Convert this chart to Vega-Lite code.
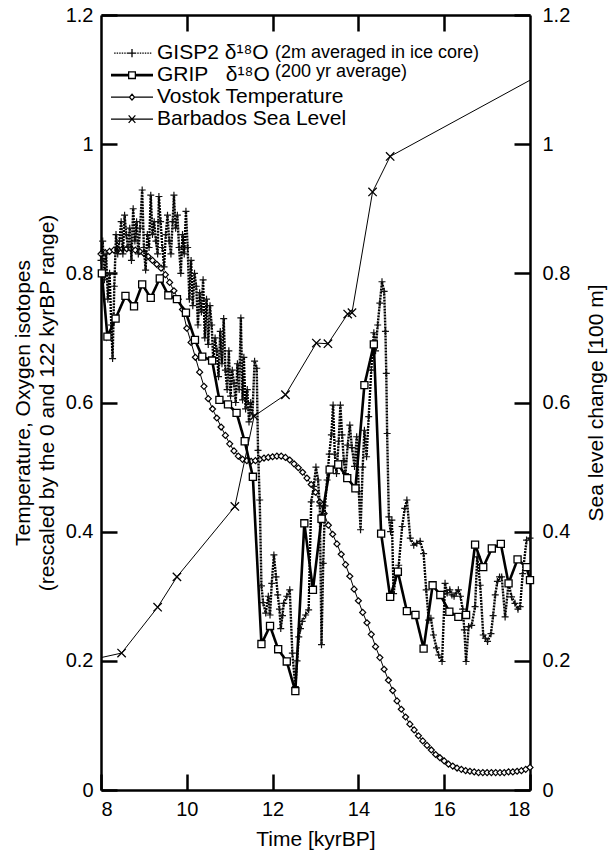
{
  "$schema": "https://vega.github.io/schema/vega-lite/v6.json",
  "width": 429,
  "height": 775,
  "autosize": {"type": "none"},
  "padding": {"left": 101, "top": 15, "right": 82, "bottom": 65},
  "background": "white",
  "config": {
    "font": "Liberation Sans",
    "view": {"stroke": null},
    "axis": {
      "domainColor": "black", "domainWidth": 2.5, "tickColor": "black", "tickWidth": 2.5,
      "labelColor": "black", "titleColor": "black", "labelFontSize": 20, "titleFontSize": 21,
      "titleFontWeight": "normal", "grid": false, "labelFont": "Liberation Sans", "titleFont": "Liberation Sans"
    }
  },
  "datasets": {
    "gisp2": [
      {"t":8.00,"v":0.82},{"t":8.04,"v":0.85},{"t":8.08,"v":0.79},{"t":8.12,"v":0.83},{"t":8.16,"v":0.76},{"t":8.20,"v":0.80},{"t":8.24,"v":0.72},{"t":8.27,"v":0.668},{"t":8.31,"v":0.78},{"t":8.35,"v":0.86},
      {"t":8.39,"v":0.83},{"t":8.43,"v":0.85},{"t":8.47,"v":0.88},{"t":8.51,"v":0.83},{"t":8.55,"v":0.89},{"t":8.59,"v":0.86},{"t":8.63,"v":0.84},{"t":8.67,"v":0.87},{"t":8.71,"v":0.82},{"t":8.75,"v":0.90},
      {"t":8.79,"v":0.85},{"t":8.83,"v":0.88},{"t":8.87,"v":0.83},{"t":8.91,"v":0.87},{"t":8.96,"v":0.929},{"t":9.00,"v":0.84},{"t":9.04,"v":0.805},{"t":9.08,"v":0.86},{"t":9.12,"v":0.84},{"t":9.16,"v":0.921},
      {"t":9.20,"v":0.86},{"t":9.24,"v":0.88},{"t":9.28,"v":0.85},{"t":9.32,"v":0.83},{"t":9.35,"v":0.919},{"t":9.39,"v":0.88},{"t":9.43,"v":0.84},{"t":9.47,"v":0.81},{"t":9.51,"v":0.86},{"t":9.55,"v":0.89},
      {"t":9.59,"v":0.85},{"t":9.63,"v":0.83},{"t":9.67,"v":0.88},{"t":9.70,"v":0.921},{"t":9.74,"v":0.87},{"t":9.78,"v":0.89},{"t":9.82,"v":0.84},{"t":9.86,"v":0.80},{"t":9.90,"v":0.86},{"t":9.94,"v":0.83},
      {"t":9.98,"v":0.896},{"t":10.02,"v":0.84},{"t":10.06,"v":0.76},{"t":10.10,"v":0.82},{"t":10.14,"v":0.75},{"t":10.18,"v":0.80},{"t":10.22,"v":0.78},{"t":10.26,"v":0.72},{"t":10.30,"v":0.77},{"t":10.34,"v":0.74},
      {"t":10.38,"v":0.79},{"t":10.42,"v":0.70},{"t":10.46,"v":0.76},{"t":10.50,"v":0.69},{"t":10.54,"v":0.75},{"t":10.58,"v":0.72},{"t":10.62,"v":0.66},{"t":10.66,"v":0.70},{"t":10.70,"v":0.68},{"t":10.74,"v":0.64},
      {"t":10.78,"v":0.71},{"t":10.82,"v":0.66},{"t":10.86,"v":0.73},{"t":10.90,"v":0.65},{"t":10.94,"v":0.62},{"t":10.98,"v":0.68},{"t":11.02,"v":0.61},{"t":11.06,"v":0.65},{"t":11.10,"v":0.63},{"t":11.14,"v":0.60},
      {"t":11.18,"v":0.66},{"t":11.22,"v":0.62},{"t":11.26,"v":0.731},{"t":11.30,"v":0.604},{"t":11.33,"v":0.670},{"t":11.37,"v":0.59},{"t":11.41,"v":0.62},{"t":11.45,"v":0.57},{"t":11.49,"v":0.60},{"t":11.53,"v":0.581},
      {"t":11.58,"v":0.664},{"t":11.63,"v":0.653},{"t":11.66,"v":0.526},{"t":11.70,"v":0.449},{"t":11.74,"v":0.316},{"t":11.78,"v":0.290},{"t":11.84,"v":0.274},{"t":11.90,"v":0.300},{"t":11.94,"v":0.271},{"t":11.98,"v":0.32},
      {"t":12.03,"v":0.364},{"t":12.08,"v":0.33},{"t":12.12,"v":0.302},{"t":12.16,"v":0.28},{"t":12.19,"v":0.250},{"t":12.23,"v":0.27},{"t":12.26,"v":0.289},{"t":12.33,"v":0.30},{"t":12.40,"v":0.310},{"t":12.46,"v":0.212},
      {"t":12.53,"v":0.160},{"t":12.57,"v":0.20},{"t":12.61,"v":0.237},{"t":12.65,"v":0.25},{"t":12.69,"v":0.261},{"t":12.77,"v":0.271},{"t":12.84,"v":0.279},{"t":12.90,"v":0.446},{"t":12.96,"v":0.470},{"t":13.01,"v":0.50},
      {"t":13.06,"v":0.48},{"t":13.10,"v":0.44},{"t":13.14,"v":0.225},{"t":13.18,"v":0.351},{"t":13.22,"v":0.44},{"t":13.27,"v":0.48},{"t":13.32,"v":0.52},{"t":13.37,"v":0.55},{"t":13.41,"v":0.596},{"t":13.45,"v":0.52},
      {"t":13.49,"v":0.49},{"t":13.54,"v":0.54},{"t":13.58,"v":0.596},{"t":13.62,"v":0.55},{"t":13.66,"v":0.51},{"t":13.70,"v":0.49},{"t":13.75,"v":0.534},{"t":13.80,"v":0.565},{"t":13.85,"v":0.53},{"t":13.91,"v":0.501},
      {"t":13.96,"v":0.547},{"t":14.01,"v":0.462},{"t":14.05,"v":0.403},{"t":14.10,"v":0.50},{"t":14.14,"v":0.557},{"t":14.19,"v":0.516},{"t":14.24,"v":0.578},{"t":14.30,"v":0.650},{"t":14.36,"v":0.708},{"t":14.40,"v":0.680},
      {"t":14.45,"v":0.72},{"t":14.50,"v":0.754},{"t":14.55,"v":0.787},{"t":14.60,"v":0.772},{"t":14.63,"v":0.710},{"t":14.65,"v":0.645},{"t":14.67,"v":0.552},{"t":14.71,"v":0.423},{"t":14.75,"v":0.40},{"t":14.78,"v":0.418},
      {"t":14.82,"v":0.304},{"t":14.88,"v":0.335},{"t":14.94,"v":0.348},{"t":15.02,"v":0.408},{"t":15.08,"v":0.436},{"t":15.13,"v":0.449},{"t":15.21,"v":0.390},{"t":15.29,"v":0.379},{"t":15.36,"v":0.382},{"t":15.44,"v":0.385},
      {"t":15.52,"v":0.366},{"t":15.58,"v":0.31},{"t":15.64,"v":0.263},{"t":15.69,"v":0.266},{"t":15.75,"v":0.24},{"t":15.82,"v":0.22},{"t":15.87,"v":0.209},{"t":15.95,"v":0.199},{"t":16.02,"v":0.320},{"t":16.07,"v":0.305},
      {"t":16.13,"v":0.31},{"t":16.18,"v":0.302},{"t":16.23,"v":0.30},{"t":16.28,"v":0.305},{"t":16.33,"v":0.310},{"t":16.38,"v":0.30},{"t":16.43,"v":0.28},{"t":16.47,"v":0.248},{"t":16.51,"v":0.199},{"t":16.57,"v":0.253},
      {"t":16.64,"v":0.255},{"t":16.72,"v":0.284},{"t":16.77,"v":0.361},{"t":16.84,"v":0.317},{"t":16.91,"v":0.240},{"t":16.96,"v":0.235},{"t":17.01,"v":0.230},{"t":17.09,"v":0.242},{"t":17.14,"v":0.27},{"t":17.19,"v":0.302},
      {"t":17.24,"v":0.323},{"t":17.29,"v":0.33},{"t":17.34,"v":0.330},{"t":17.42,"v":0.268},{"t":17.50,"v":0.320},{"t":17.57,"v":0.299},{"t":17.65,"v":0.289},{"t":17.72,"v":0.28},{"t":17.77,"v":0.284},{"t":17.83,"v":0.335},
      {"t":17.92,"v":0.387},{"t":18.00,"v":0.39}
    ],
    "grip": [
      {"t":8.02,"v":0.80},{"t":8.15,"v":0.702},{"t":8.34,"v":0.730},{"t":8.57,"v":0.765},{"t":8.77,"v":0.749},{"t":8.96,"v":0.783},{"t":9.16,"v":0.762},{"t":9.37,"v":0.792},{"t":9.57,"v":0.766},{"t":9.77,"v":0.760},
      {"t":9.98,"v":0.739},{"t":10.19,"v":0.697},{"t":10.36,"v":0.671},{"t":10.59,"v":0.665},{"t":10.76,"v":0.604},{"t":10.96,"v":0.597},{"t":11.16,"v":0.584},{"t":11.35,"v":0.54},{"t":11.54,"v":0.485},{"t":11.74,"v":0.226},
      {"t":11.94,"v":0.254},{"t":12.13,"v":0.218},{"t":12.33,"v":0.199},{"t":12.53,"v":0.153},{"t":12.74,"v":0.413},{"t":12.94,"v":0.310},{"t":13.14,"v":0.42},{"t":13.33,"v":0.496},{"t":13.53,"v":0.504},{"t":13.74,"v":0.483},
      {"t":13.93,"v":0.467},{"t":14.14,"v":0.627},{"t":14.36,"v":0.690},{"t":14.53,"v":0.397},{"t":14.74,"v":0.299},{"t":14.92,"v":0.338},{"t":15.13,"v":0.277},{"t":15.33,"v":0.271},{"t":15.52,"v":0.219},{"t":15.73,"v":0.317},
      {"t":15.91,"v":0.302},{"t":16.12,"v":0.276},{"t":16.33,"v":0.268},{"t":16.51,"v":0.271},{"t":16.72,"v":0.380},{"t":16.91,"v":0.345},{"t":17.11,"v":0.374},{"t":17.32,"v":0.381},{"t":17.50,"v":0.320},{"t":17.71,"v":0.357},
      {"t":17.92,"v":0.345},{"t":18.00,"v":0.325}
    ],
    "vostok": [
      {"t":8.0,"v":0.830},{"t":8.1,"v":0.832},{"t":8.2,"v":0.834},{"t":8.3,"v":0.836},{"t":8.4,"v":0.837},{"t":8.5,"v":0.838},{"t":8.6,"v":0.838},{"t":8.7,"v":0.838},{"t":8.8,"v":0.836},{"t":8.9,"v":0.834},
      {"t":9.0,"v":0.831},{"t":9.1,"v":0.826},{"t":9.2,"v":0.820},{"t":9.3,"v":0.814},{"t":9.4,"v":0.808},{"t":9.5,"v":0.798},{"t":9.6,"v":0.786},{"t":9.7,"v":0.773},{"t":9.8,"v":0.760},{"t":9.9,"v":0.744},
      {"t":10.0,"v":0.715},{"t":10.1,"v":0.693},{"t":10.2,"v":0.670},{"t":10.3,"v":0.647},{"t":10.4,"v":0.625},{"t":10.5,"v":0.606},{"t":10.6,"v":0.590},{"t":10.7,"v":0.576},{"t":10.8,"v":0.562},{"t":10.9,"v":0.549},
      {"t":11.0,"v":0.536},{"t":11.1,"v":0.525},{"t":11.2,"v":0.517},{"t":11.3,"v":0.512},{"t":11.4,"v":0.510},{"t":11.5,"v":0.509},{"t":11.6,"v":0.510},{"t":11.7,"v":0.512},{"t":11.8,"v":0.514},{"t":11.9,"v":0.515},
      {"t":12.0,"v":0.516},{"t":12.1,"v":0.517},{"t":12.2,"v":0.517},{"t":12.3,"v":0.515},{"t":12.4,"v":0.511},{"t":12.5,"v":0.505},{"t":12.6,"v":0.499},{"t":12.7,"v":0.492},{"t":12.8,"v":0.483},{"t":12.9,"v":0.473},
      {"t":13.0,"v":0.461},{"t":13.1,"v":0.446},{"t":13.2,"v":0.428},{"t":13.3,"v":0.410},{"t":13.4,"v":0.396},{"t":13.5,"v":0.381},{"t":13.6,"v":0.365},{"t":13.7,"v":0.349},{"t":13.8,"v":0.331},{"t":13.9,"v":0.311},
      {"t":14.0,"v":0.293},{"t":14.1,"v":0.275},{"t":14.2,"v":0.259},{"t":14.3,"v":0.241},{"t":14.4,"v":0.222},{"t":14.5,"v":0.205},{"t":14.6,"v":0.187},{"t":14.7,"v":0.170},{"t":14.8,"v":0.154},{"t":14.9,"v":0.138},
      {"t":15.0,"v":0.125},{"t":15.1,"v":0.113},{"t":15.2,"v":0.102},{"t":15.3,"v":0.093},{"t":15.4,"v":0.084},{"t":15.5,"v":0.076},{"t":15.6,"v":0.069},{"t":15.7,"v":0.062},{"t":15.8,"v":0.055},{"t":15.9,"v":0.050},
      {"t":16.0,"v":0.045},{"t":16.1,"v":0.040},{"t":16.2,"v":0.037},{"t":16.3,"v":0.034},{"t":16.4,"v":0.032},{"t":16.5,"v":0.030},{"t":16.6,"v":0.029},{"t":16.7,"v":0.028},{"t":16.8,"v":0.027},{"t":16.9,"v":0.027},
      {"t":17.0,"v":0.027},{"t":17.1,"v":0.027},{"t":17.2,"v":0.027},{"t":17.3,"v":0.027},{"t":17.4,"v":0.027},{"t":17.5,"v":0.028},{"t":17.6,"v":0.028},{"t":17.7,"v":0.029},{"t":17.8,"v":0.030},{"t":17.9,"v":0.032},
      {"t":18.0,"v":0.035}
    ],
    "barbados": [
      {"t":8.0,"v":0.205},{"t":8.48,"v":0.212},{"t":9.32,"v":0.283},{"t":9.77,"v":0.330},{"t":11.12,"v":0.439},{"t":11.57,"v":0.579},{"t":12.30,"v":0.612},
      {"t":13.02,"v":0.692},{"t":13.29,"v":0.691},{"t":13.75,"v":0.737},{"t":13.85,"v":0.739},{"t":14.33,"v":0.926},{"t":14.74,"v":0.981},{"t":18.0,"v":1.099}
    ]
  },
  "resolve": {"axis": {"x": "independent", "y": "independent"}},
  "layer": [
    {
      "data": {"name": "vostok"},
      "mark": {"type": "line", "color": "black", "strokeWidth": 1},
      "encoding": {
        "x": {"field": "t", "type": "quantitative", "scale": {"domain": [8, 18], "nice": false, "zero": false},
          "axis": {"orient": "bottom", "values": [8, 10, 12, 14, 16, 18], "tickSize": -16, "labelPadding": 25, "title": "Time [kyrBP]", "titlePadding": 9, "format": "d"}},
        "y": {"field": "v", "type": "quantitative", "scale": {"domain": [0, 1.2], "nice": false},
          "axis": {"orient": "left", "values": [0, 0.2, 0.4, 0.6, 0.8, 1, 1.2], "format": "~g", "tickSize": -16, "labelPadding": 24,
            "title": ["Temperature, Oxygen isotopes", "(rescaled by the 0 and 122 kyrBP range)"], "titleLineHeight": 24, "titlePadding": 8}}
      }
    },
    {
      "data": {"name": "vostok"},
      "mark": {"type": "point", "shape": "diamond", "filled": true, "fill": "white", "stroke": "black", "strokeWidth": 1.2, "size": 36, "opacity": 1},
      "encoding": {
        "x": {"field": "t", "type": "quantitative", "axis": {"orient": "top", "values": [10, 12, 14, 16], "tickSize": -16, "labels": false, "title": null}},
        "y": {"field": "v", "type": "quantitative", "axis": null}
      }
    },
    {
      "data": {"name": "barbados"},
      "mark": {"type": "line", "color": "black", "strokeWidth": 1},
      "encoding": {
        "x": {"field": "t", "type": "quantitative", "axis": null},
        "y": {"field": "v", "type": "quantitative",
          "axis": {"orient": "right", "values": [0, 0.2, 0.4, 0.6, 0.8, 1, 1.2], "format": "~g", "tickSize": -16, "labelPadding": 28,
            "title": "Sea level change [100 m]", "titleAngle": 270, "titlePadding": 37}}
      }
    },
    {
      "data": {"name": "barbados"},
      "transform": [{"filter": "datum.t > 8.01 && datum.t < 17.99"}],
      "mark": {"type": "point", "shape": "M-1,-1L1,1M-1,1L1,-1", "filled": true, "fill": "white", "stroke": "black", "strokeWidth": 1.3, "size": 70, "opacity": 1},
      "encoding": {
        "x": {"field": "t", "type": "quantitative", "axis": null},
        "y": {"field": "v", "type": "quantitative", "axis": null}
      }
    },
    {
      "data": {"name": "gisp2"},
      "mark": {"type": "line", "color": "black", "strokeWidth": 2.4},
      "encoding": {
        "x": {"field": "t", "type": "quantitative", "axis": null},
        "y": {"field": "v", "type": "quantitative", "axis": null},
        "strokeDash": {"datum": "(2m averaged in ice core)", "type": "nominal",
          "scale": {"domain": ["(2m averaged in ice core)", "(200 yr average)"], "range": [[2, 1], [1, 0]]},
          "legend": {"orient": "none", "legendX": 156, "legendY": 30, "title": null, "labelFontSize": 18, "labelColor": "black", "labelLimit": 400,
            "symbolSize": 4, "symbolOpacity": 0, "symbolStrokeWidth": 0, "labelOffset": 0, "padding": 0, "clipHeight": 16.3, "rowPadding": 0}}
      }
    },
    {
      "data": {"name": "gisp2"},
      "mark": {"type": "point", "shape": "M-1,0H1M0,-1V1", "filled": false, "stroke": "#111", "strokeWidth": 1.2, "size": 49, "opacity": 1},
      "encoding": {
        "x": {"field": "t", "type": "quantitative", "axis": null},
        "y": {"field": "v", "type": "quantitative", "axis": null}
      }
    },
    {
      "data": {"name": "grip"},
      "mark": {"type": "line", "color": "black", "strokeWidth": 2.6},
      "encoding": {
        "x": {"field": "t", "type": "quantitative", "axis": null},
        "y": {"field": "v", "type": "quantitative", "axis": null},
        "strokeDash": {"datum": "(200 yr average)", "type": "nominal"}
      }
    },
    {
      "data": {"name": "grip"},
      "mark": {"type": "point", "shape": "square", "filled": true, "fill": "white", "stroke": "black", "strokeWidth": 1.3, "size": 50, "opacity": 1},
      "encoding": {
        "x": {"field": "t", "type": "quantitative", "axis": null},
        "y": {"field": "v", "type": "quantitative", "axis": null}
      }
    },
    {
      "data": {"name": "gisp2"},
      "transform": [{"filter": "datum.t > 17.95"}],
      "mark": {"type": "point", "filled": false, "color": "black", "opacity": 0, "strokeWidth": 1.3},
      "encoding": {
        "x": {"field": "t", "type": "quantitative", "axis": null},
        "y": {"field": "v", "type": "quantitative", "axis": null},
        "shape": {"datum": "GISP2", "type": "nominal",
          "scale": {"domain": ["GISP2", "GRIP", "Vostok", "Barbados"],
            "range": [
              "M-0.85,0H-0.78M-0.73,0H-0.66M-0.61,0H-0.54M-0.49,0H-0.42M-0.37,0H-0.3M-0.25,0H-0.2M0,-0.2V0.2M-0.2,0H0.2M0.25,0H0.32M0.37,0H0.44M0.49,0H0.56M0.61,0H0.68M0.73,0H0.8M0.85,0H0.92",
              "M-1,-0.035H-0.16M-1,0.035H-0.16M-1,0H-0.16M0.16,-0.035H1M0.16,0.035H1M0.16,0H1M-0.16,-0.16H0.16V0.16H-0.16Z",
              "M-1,0H-0.12M0.12,0H1M0,-0.14L0.12,0L0,0.14L-0.12,0Z",
              "M-1,0H1M-0.16,-0.18L0.16,0.18M-0.16,0.18L0.16,-0.18"
            ]},
          "legend": {"orient": "none", "legendX": 9, "legendY": 30, "title": null, "padding": 0, "symbolSize": 1764, "clipHeight": 16.3, "rowPadding": 0,
            "labelFontSize": 21, "labelColor": "black", "labelOffset": 3, "labelLimit": 400,
            "symbolOpacity": 1, "symbolStrokeWidth": 1.3, "symbolStrokeColor": "black", "symbolFillColor": "white",
            "labelExpr": "datum.value === 'GISP2' ? 'GISP2 δ¹⁸O' : datum.value === 'GRIP' ? 'GRIP\u00a0\u00a0\u00a0δ¹⁸O' : datum.value === 'Vostok' ? 'Vostok Temperature' : 'Barbados Sea Level'"}
        }
      }
    },
    {
      "data": {"name": "grip"},
      "transform": [{"filter": "datum.t > 17.95"}],
      "mark": {"type": "point", "filled": false, "color": "black", "opacity": 0, "strokeWidth": 1.3},
      "encoding": {
        "x": {"field": "t", "type": "quantitative", "axis": null},
        "y": {"field": "v", "type": "quantitative", "axis": null},
        "shape": {"datum": "GRIP", "type": "nominal"}
      }
    },
    {
      "data": {"name": "vostok"},
      "transform": [{"filter": "datum.t > 17.95"}],
      "mark": {"type": "point", "filled": false, "color": "black", "opacity": 0, "strokeWidth": 1.3},
      "encoding": {
        "x": {"field": "t", "type": "quantitative", "axis": null},
        "y": {"field": "v", "type": "quantitative", "axis": null},
        "shape": {"datum": "Vostok", "type": "nominal"}
      }
    },
    {
      "data": {"name": "barbados"},
      "transform": [{"filter": "datum.t > 17.95"}],
      "mark": {"type": "point", "filled": false, "color": "black", "opacity": 0, "strokeWidth": 1.3},
      "encoding": {
        "x": {"field": "t", "type": "quantitative", "axis": null},
        "y": {"field": "v", "type": "quantitative", "axis": null},
        "shape": {"datum": "Barbados", "type": "nominal"}
      }
    }
  ]
}
